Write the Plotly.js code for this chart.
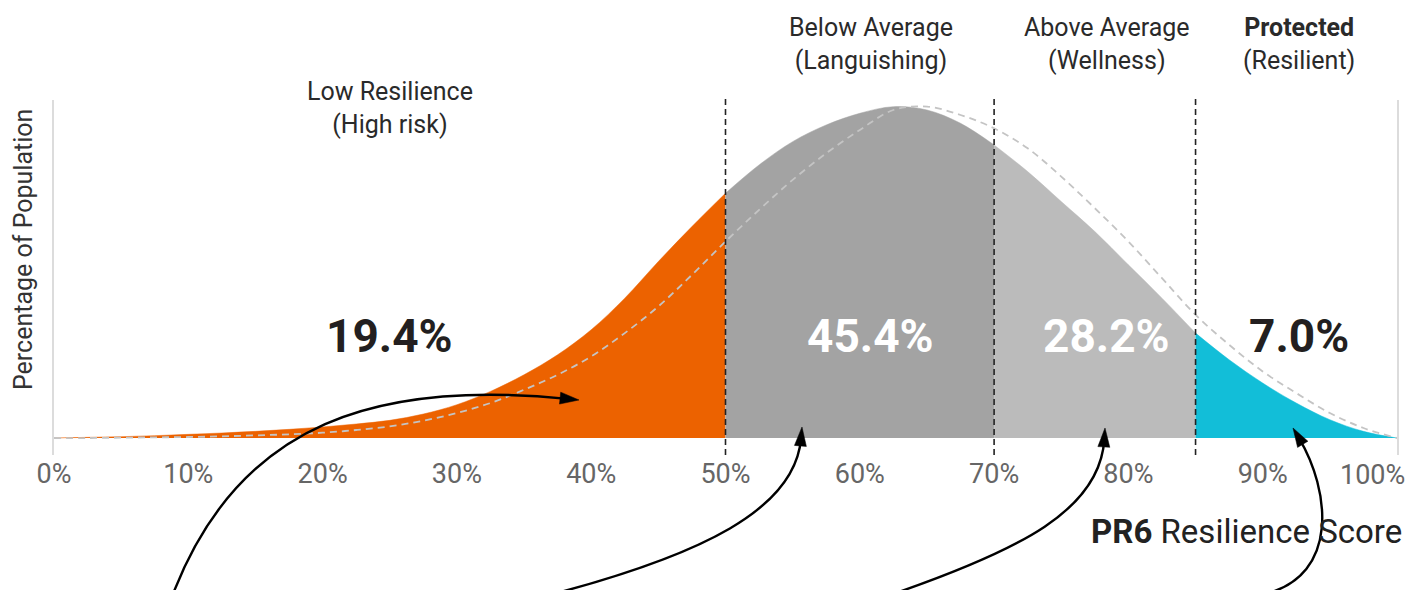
<!DOCTYPE html>
<html>
<head>
<meta charset="utf-8">
<script src="https://cdn.plot.ly/plotly-3.0.1.min.js"></script>
<style>
  html, body { margin: 0; padding: 0; background: #fff; }
  #chart { width: 1421px; height: 590px; }
</style>
</head>
<body>
<div id="chart"></div>
<script>
// ---------------- data ----------------
const scorePct = [0, 2.5, 5, 7.5, 10, 12.5, 15, 17.5, 20, 22.5, 25, 27.5, 30, 32.5, 35, 37.5, 40, 42.5, 45, 47.5,
                  50, 52.5, 55, 57.5, 60, 62.5, 65, 67.5, 70, 72.5, 75, 77.5, 80, 82.5, 85, 87.5, 90, 92.5, 95, 97.5, 100];
// observed population distribution (relative height)
const observedCurve = [0, 0.002, 0.004, 0.007, 0.011, 0.015, 0.02, 0.026, 0.033, 0.042, 0.053, 0.072, 0.1, 0.14, 0.19, 0.25, 0.325, 0.42, 0.53, 0.635,
                       0.735, 0.82, 0.89, 0.94, 0.975, 0.995, 0.985, 0.945, 0.88, 0.8, 0.71, 0.62, 0.52, 0.42, 0.315, 0.235, 0.165, 0.105, 0.055, 0.02, 0];
// reference (dashed) distribution
const referenceCurve = [0, 0, 0.001, 0.002, 0.003, 0.005, 0.008, 0.011, 0.016, 0.024, 0.035, 0.052, 0.075, 0.105, 0.145, 0.19, 0.245, 0.315, 0.395, 0.49,
                        0.59, 0.685, 0.775, 0.855, 0.925, 0.985, 0.995, 0.97, 0.93, 0.87, 0.785, 0.69, 0.59, 0.48, 0.37, 0.28, 0.2, 0.135, 0.075, 0.03, 0];
const bandEdges = [0, 50, 70, 85, 100];
const bandTitles = ["Low Resilience<br>(High risk)", "Below Average<br>(Languishing)", "Above Average<br>(Wellness)", "<b>Protected</b><br>(Resilient)"];
const bandShares = ["19.4%", "45.4%", "28.2%", "7.0%"];
const tickValues = [0, 10, 20, 30, 40, 50, 60, 70, 80, 90, 100];
const tickLabels = ["0%", "10%", "20%", "30%", "40%", "50%", "60%", "70%", "80%", "90%", "100%"];

// ---------------- styling ----------------
const bandColors = ["#EC6200", "#A3A3A3", "#BBBBBB", "#12BED8"];
const shareColors = ["#231f20", "#ffffff", "#ffffff", "#231f20"];
const labelX = [25, 60.8, 78.4, 92.7];

const plotL = 54, plotR = 1397, plotT = 100, plotB = 455;
const PX = px => (px - plotL) / (plotR - plotL);
const PY = py => (plotB - py) / (plotB - plotT);

const traces = [];
for (let b = 0; b < 4; b++) {
  const lo = bandEdges[b], hi = bandEdges[b + 1];
  const xs = [], ys = [];
  scorePct.forEach((x, i) => { if (x >= lo && x <= hi) { xs.push(x); ys.push(observedCurve[i]); } });
  traces.push({
    x: xs, y: ys, type: "scatter", mode: "lines",
    line: { shape: "spline", smoothing: 1, width: 0.5, color: bandColors[b] },
    fill: "tozeroy", fillcolor: bandColors[b], hoverinfo: "skip"
  });
}
traces.push({
  x: scorePct, y: referenceCurve, type: "scatter", mode: "lines",
  line: { shape: "spline", smoothing: 1, width: 1.8, color: "#c4c4c4", dash: "7px,5px" },
  hoverinfo: "skip"
});

const shapes = [];
[50, 70, 85].forEach(v => shapes.push({
  type: "line", xref: "x", yref: "paper", x0: v, x1: v, y0: 0, y1: 1.003,
  line: { color: "#222", width: 1.6, dash: "6px,4px" }, layer: "above"
}));

// curved arrows (pixel geometry)
const arrows = [
  { p0: [173, 594], p1: [240, 420], p2: [380, 380], tip: [579, 400] },
  { p0: [553, 594], p1: [700, 555], p2: [795, 510], tip: [802, 427] },
  { p0: [893, 594], p1: [1020, 550], p2: [1100, 510], tip: [1105, 428] },
  { p0: [1265, 594], p1: [1340, 575], p2: [1330, 490], tip: [1293, 428] }
];
const headL = 19, headW = 6;
arrows.forEach(a => {
  const dx = a.tip[0] - a.p2[0], dy = a.tip[1] - a.p2[1];
  const n = Math.hypot(dx, dy), ux = dx / n, uy = dy / n;
  const bx = a.tip[0] - headL * ux, by = a.tip[1] - headL * uy;
  const ex = a.tip[0] - 0.6 * headL * ux, ey = a.tip[1] - 0.6 * headL * uy;
  const pt = (x, y) => PX(x).toFixed(5) + "," + PY(y).toFixed(5);
  shapes.push({
    type: "path", xref: "paper", yref: "paper",
    path: "M" + pt(a.p0[0], a.p0[1]) + " C" + pt(a.p1[0], a.p1[1]) + " " + pt(a.p2[0], a.p2[1]) + " " + pt(ex, ey),
    line: { color: "#000", width: 2.4 }, layer: "above"
  });
  shapes.push({
    type: "path", xref: "paper", yref: "paper",
    path: "M" + pt(a.tip[0], a.tip[1]) + " L" + pt(bx - headW * uy, by + headW * ux) + " L" + pt(bx + headW * uy, by - headW * ux) + " Z",
    fillcolor: "#000", line: { color: "#000", width: 0.5 }, layer: "above"
  });
});

const annotations = [];
const titleY = [108, 44, 44, 44];
for (let b = 0; b < 4; b++) {
  annotations.push({
    xref: "x", yref: "paper", x: labelX[b], y: PY(titleY[b]), xanchor: "center", yanchor: "middle",
    text: bandTitles[b], showarrow: false, align: "center",
    font: { family: "Roboto", size: 25, color: "#2a2a2a" }
  });
  annotations.push({
    xref: "x", yref: "paper", x: labelX[b], y: PY(336), xanchor: "center", yanchor: "middle",
    text: "<b>" + bandShares[b] + "</b>", showarrow: false,
    font: { family: "Roboto", size: 46, color: shareColors[b] }
  });
}
annotations.push({
  xref: "paper", yref: "paper", x: PX(23), y: PY(250), xanchor: "center", yanchor: "middle",
  text: "Percentage of Population", textangle: -90, showarrow: false,
  font: { family: "Roboto", size: 25, color: "#333" }
});
annotations.push({
  xref: "paper", yref: "paper", x: PX(1404), y: PY(531), xanchor: "right", yanchor: "middle",
  text: "<b>PR6</b> Resilience Score", showarrow: false,
  font: { family: "Roboto", size: 33, color: "#222" }
});
// last tick label is pulled inside the page edge, as in the original
const lastTick = tickLabels.length - 1;
annotations.push({
  xref: "paper", yref: "paper", x: PX(1407), y: PY(474.5), xanchor: "right", yanchor: "middle",
  text: tickLabels[lastTick], showarrow: false,
  font: { family: "Roboto", size: 27, color: "#666" }
});

const layout = {
  width: 1421, height: 590,
  margin: { l: plotL, r: 1421 - plotR, t: plotT, b: 590 - plotB, pad: 0 },
  paper_bgcolor: "#fff", plot_bgcolor: "#fff",
  showlegend: false, hovermode: false,
  xaxis: {
    range: [0, 100], tickmode: "array",
    tickvals: tickValues.slice(0, lastTick), ticktext: tickLabels.slice(0, lastTick),
    tickfont: { family: "Roboto", size: 27, color: "#666" },
    showgrid: false, zeroline: false, showline: false, ticks: "", fixedrange: true
  },
  yaxis: {
    range: [-0.051, 1.015], showticklabels: false, showgrid: false, zeroline: false,
    showline: true, mirror: true, linecolor: "#dcdcdc", linewidth: 2, ticks: "", fixedrange: true
  },
  shapes: shapes, annotations: annotations
};

Plotly.newPlot("chart", traces, layout, { displayModeBar: false, staticPlot: true });
</script>
</body>
</html>
